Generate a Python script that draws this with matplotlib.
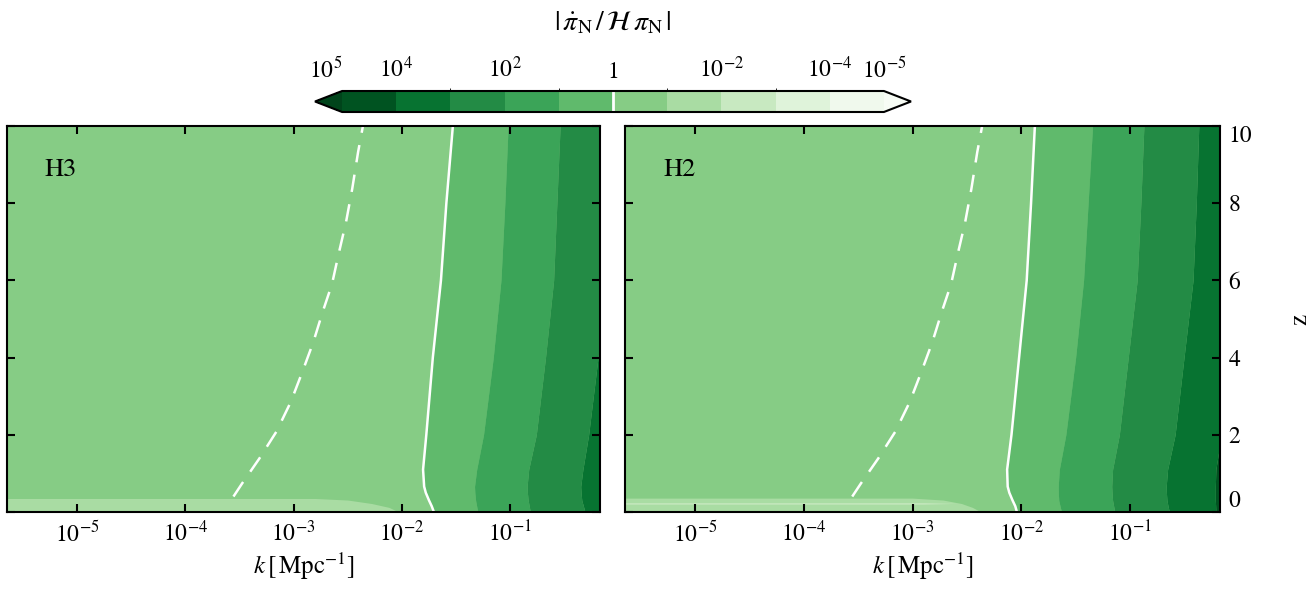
import numpy as np
import matplotlib
matplotlib.use('Agg')
import matplotlib.pyplot as plt
import matplotlib.cm as cm
from matplotlib.colors import ListedColormap, BoundaryNorm
from matplotlib.ticker import NullLocator

plt.rcParams['font.family'] = 'STIXGeneral'
plt.rcParams['mathtext.fontset'] = 'stix'
plt.rcParams['axes.linewidth'] = 1.5

# colour levels in s = -log10|pidot/(H pi)|  (left of bar = 10^5)
levels = np.arange(-5, 6)
cbar_ticks = [-5, -4, -2, 0, 2, 4, 5]
cbar_labels = [r'$10^{5}$', r'$10^{4}$', r'$10^{2}$', r'$1$',
               r'$10^{-2}$', r'$10^{-4}$', r'$10^{-5}$']

# redshift nodes where the contour boundaries were read
z_nodes = np.array([0.0, 0.15, 0.3, 0.5, 0.66, 1.1, 2.0, 4.0, 6.0, 8.0, 10.0])

# log10 k of contour boundaries |...| = 10^n  (H3 model)
h3_L0 = [-1.705, -1.725, -1.75, -1.78, -1.795, -1.805, -1.775, -1.715, -1.64, -1.59, -1.53]
h3_L1 = [-1.30, -1.31, -1.32, -1.327, -1.33, -1.31, -1.247, -1.157, -1.086, -1.05, -1.02]
h3_L2 = [-0.815, -0.825, -0.835, -0.842, -0.845, -0.83, -0.76, -0.675, -0.60, -0.57, -0.54]
h3_L3 = [-0.31, -0.325, -0.34, -0.347, -0.35, -0.33, -0.277, -0.19, -0.10, -0.05, 0.0]

# same for H2 model
h2_L0 = [-2.04, -2.055, -2.08, -2.11, -2.125, -2.13, -2.09, -2.02, -1.95, -1.91, -1.875]
h2_L1 = [-1.63, -1.643, -1.655, -1.659, -1.66, -1.65, -1.59, -1.50, -1.427, -1.385, -1.344]
h2_L2 = [-1.14, -1.15, -1.16, -1.165, -1.168, -1.16, -1.098, -1.016, -0.934, -0.90, -0.872]
h2_L3 = [-0.638, -0.65, -0.66, -0.665, -0.667, -0.654, -0.585, -0.503, -0.42, -0.39, -0.367]
h2_L4 = [-0.21, -0.212, -0.215, -0.215, -0.215, -0.21, -0.16, 0.0, 0.0, 0.0, 0.0]

# low-z strip where |...| < 10^-1 : top edge z vs log10 k
h3_strip_logk = [-6.0, -2.8, -2.5, -2.28, -2.12, -2.03]
h3_strip_z = [0.35, 0.35, 0.31, 0.22, 0.12, 0.0]
h2_strip_logk = [-6.0, -3.0, -2.72, -2.55, -2.45, -2.37]
h2_strip_z = [0.36, 0.36, 0.31, 0.22, 0.12, 0.0]
# thin band < 10^-2 inside the H2 strip
h2_thin_logk = [-6.0, -2.9, -2.6]
h2_thin_lo = [0.205, 0.205, 0.222]
h2_thin_hi = [0.24, 0.24, 0.222]

# dashed reference curve (same in both panels)
dash_logk = [-3.555, -3.475, -3.315, -3.159, -3.026, -2.919, -2.818, -2.732,
             -2.645, -2.584, -2.516, -2.459, -2.405, -2.36]
dash_z = [0.40, 0.74, 1.39, 2.08, 2.85, 3.63, 4.40, 5.18,
          5.91, 6.69, 7.51, 8.37, 9.32, 10.0]

k_lim = (10 ** -5.645, 10 ** -0.172)

greens = plt.get_cmap('Greens_r')
band_colors = greens((np.arange(10) + 0.5) / 10)
cmap = ListedColormap(band_colors)
cmap.set_under(greens(0.0))
cmap.set_over(greens(1.0))
norm = BoundaryNorm(levels, cmap.N)

W, H = 1315, 589
fig = plt.figure(figsize=(W / 100, H / 100), dpi=100)
ax1 = fig.add_axes([7 / W, 1 - 512 / H, 593 / W, 386 / H])
ax2 = fig.add_axes([625 / W, 1 - 512 / H, 595 / W, 386 / H])


def draw_panel(ax, bounds, strip_k, strip_z, name):
    ax.set_xscale('log')
    ax.set_facecolor(band_colors[5])
    edge = np.full(len(z_nodes), 1.0)
    # bands right of the |...|=1 line: 1..10, 10..100, ...
    for i, b in enumerate(bounds):
        right = bounds[i + 1] if i + 1 < len(bounds) else None
        xr = 10 ** np.array(right) if right is not None else edge
        ax.fill_betweenx(z_nodes, 10 ** np.array(b), xr,
                         color=band_colors[4 - i], lw=0)
    ax.fill_between(10 ** np.array(strip_k), -1, strip_z,
                    color=band_colors[6], lw=0)
    ax.plot(10 ** np.array(bounds[0]), z_nodes, color='white', lw=1.8)
    ax.plot(10 ** np.array(dash_logk), dash_z, color='white', lw=1.8,
            ls='--', dashes=(7, 5))
    ax.set_xlim(k_lim)
    ax.set_ylim(0, 10)
    ax.set_xticks([1e-5, 1e-4, 1e-3, 1e-2, 1e-1])
    ax.xaxis.set_minor_locator(NullLocator())
    ax.set_yticks([0, 2, 4, 6, 8, 10])
    ax.tick_params(direction='in', top=True, right=True, length=6,
                   width=1.5, labelsize=17, pad=6)
    ax.set_xlabel(r'$k\,[\,\mathrm{Mpc}^{-1}]$', fontsize=18, labelpad=3)
    ax.text(0.064, 0.886, name, transform=ax.transAxes, fontsize=19,
            va='center', ha='left')


draw_panel(ax1, [h3_L0, h3_L1, h3_L2, h3_L3], h3_strip_logk, h3_strip_z, 'H3')
draw_panel(ax2, [h2_L0, h2_L1, h2_L2, h2_L3, h2_L4], h2_strip_logk,
           h2_strip_z, 'H2')
ax2.fill_between(10 ** np.array(h2_thin_logk), h2_thin_lo, h2_thin_hi,
                 color=band_colors[7], lw=0)

ax1.tick_params(labelleft=False)
ax2.tick_params(labelleft=False, labelright=True)
ax2.yaxis.set_label_position('right')
ax2.set_ylabel('z', fontsize=18, rotation=90, labelpad=26)
yt = ax2.yaxis.get_major_ticks()
yt[0].label2.set_va('bottom')
yt[-1].label2.set_va('top')

# colour bar on top
cax = fig.add_axes([315 / W, 1 - 112 / H, 596 / W, 21 / H])
sm = cm.ScalarMappable(norm=norm, cmap=cmap)
cbar = fig.colorbar(sm, cax=cax, orientation='horizontal', extend='both',
                    ticks=cbar_ticks)
cbar.outline.set_linewidth(1.5)
cax.xaxis.set_ticks_position('top')
cax.xaxis.set_label_position('top')
cbar.set_ticklabels(cbar_labels)
cax.tick_params(length=0, labelsize=17, pad=6)
cax.axvline(0, color='white', lw=2)
cbar.set_label(r'$|\,\dot{\pi}_{\rm N}\,/\,\mathcal{H}\,\pi_{\rm N}\,|$',
               fontsize=20, labelpad=19)
ct = cax.xaxis.get_major_ticks()
ct[0].label2.set_ha('right')

fig.savefig('out.png', dpi=100)
